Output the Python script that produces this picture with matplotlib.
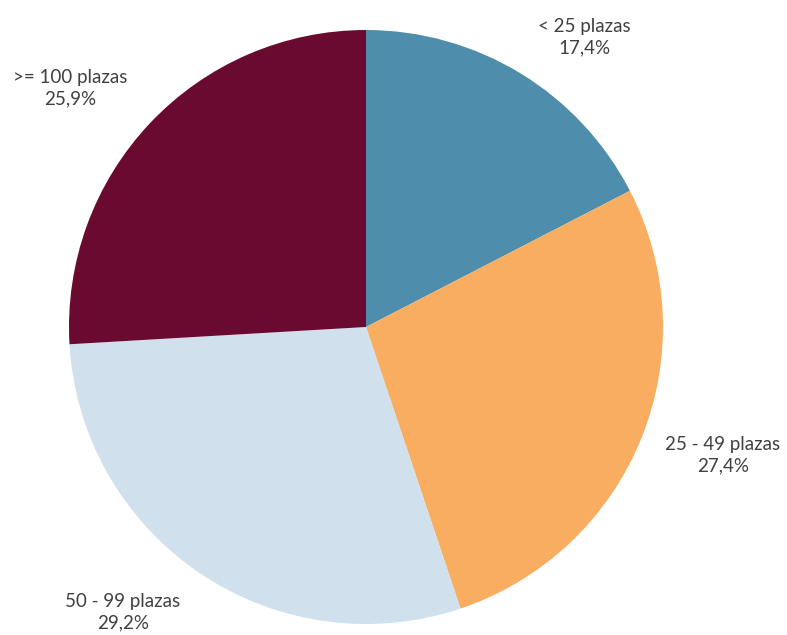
import matplotlib.pyplot as plt

categories = ['< 25 plazas', '25 - 49 plazas', '50 - 99 plazas', '>= 100 plazas']
shares = [17.4, 27.4, 29.2, 25.9]
colors = ['#4E8DAB', '#F8AD60', '#D0E0ED', '#6B0A30']

W, H = 787, 635
fig = plt.figure(figsize=(W / 100, H / 100), dpi=100)
ax = fig.add_axes([0, 0, 1, 1])
ax.set_xlim(0, W)
ax.set_ylim(0, H)
ax.set_aspect('equal')

ax.pie(shares, colors=colors, startangle=90, counterclock=False,
       center=(366, H - 327), radius=297, frame=True,
       wedgeprops={'linewidth': 0})
ax.axis('off')

# label anchors (pixels from top-left), placed like the original
label_pos = [(584, 37), (723, 455), (123, 612), (70, 88)]
for cat, val, (x, y) in zip(categories, shares, label_pos):
    txt = f"{cat}\n{val:.1f}%".replace('.', ',')
    ax.text(x, H - y, txt, ha='center', va='center', fontsize=13.5,
            color='#404040', family='Lato', linespacing=1.3)

fig.savefig('out.png', dpi=100)
